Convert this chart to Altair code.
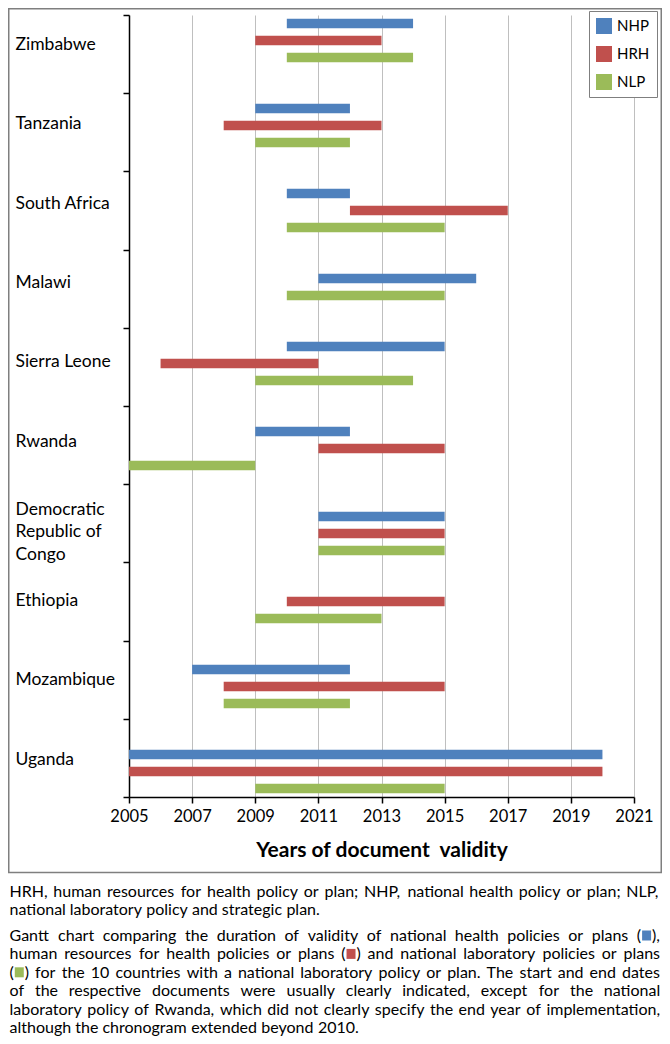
import glob
import os
import struct

import altair as alt
import pandas as pd

# ---------------- data ----------------
countries = [
    "Zimbabwe", "Tanzania", "South Africa", "Malawi", "Sierra Leone",
    "Rwanda", "Democratic Republic of Congo", "Ethiopia", "Mozambique", "Uganda",
]
series_names = ["NHP", "HRH", "NLP"]
series_colors = ["#4f81bd", "#c0504d", "#9bbb59"]

# start / end year of validity (None = no document)
nhp_start = [2010, 2009, 2010, 2011, 2010, 2009, 2011, None, 2007, 2005]
nhp_end   = [2014, 2012, 2012, 2016, 2015, 2012, 2015, None, 2012, 2020]
hrh_start = [2009, 2008, 2012, None, 2006, 2011, 2011, 2010, 2008, 2005]
hrh_end   = [2013, 2013, 2017, None, 2011, 2015, 2015, 2015, 2015, 2020]
nlp_start = [2010, 2009, 2010, 2010, 2009, 2005, 2011, 2009, 2008, 2009]
nlp_end   = [2014, 2012, 2015, 2015, 2014, 2009, 2015, 2013, 2012, 2015]

year_ticks = [2005, 2007, 2009, 2011, 2013, 2015, 2017, 2019, 2021]
x_title = "Years of document\u00a0 validity"

caption_p1 = [
    "HRH, human resources for health policy or plan; NHP, national health policy or plan; NLP,",
    "national laboratory policy and strategic plan.",
]
caption_p2 = [
    "Gantt chart comparing the duration of validity of national health policies or plans (\u25a0),",
    "human resources for health policies or plans (\u25a0) and national laboratory policies or plans",
    "(\u25a0) for the 10 countries with a national laboratory policy or plan. The start and end dates",
    "of the respective documents were usually clearly indicated, except for the national",
    "laboratory policy of Rwanda, which did not clearly specify the end year of implementation,",
    "although the chronogram extended beyond 2010.",
]
# series whose colour fills the square in each line of paragraph 2
caption_swatch = {0: "NHP", 1: "HRH", 2: "NLP"}

FONT = "Lato"

# ---------------- font metrics (for justified caption) ----------------
def _find_font():
    dirs = ["/usr/share/fonts", "/usr/local/share/fonts",
            os.path.expanduser("~/.fonts"), os.path.expanduser("~/.local/share/fonts")]
    for d in dirs:
        for name in ("Lato-Regular.ttf", "Lato-Regular.otf"):
            hits = glob.glob(os.path.join(d, "**", name), recursive=True)
            if hits:
                return hits[0]
    return None


def _load_metrics(path):
    data = open(path, "rb").read()
    base = struct.unpack(">I", data[12:16])[0] if data[:4] == b"ttcf" else 0
    ntab = struct.unpack(">H", data[base + 4:base + 6])[0]
    tabs = {}
    for i in range(ntab):
        tag, _, off, ln = struct.unpack(">4sIII", data[base + 12 + 16 * i: base + 28 + 16 * i])
        tabs[tag.decode("latin1")] = off
    upem = struct.unpack(">H", data[tabs["head"] + 18: tabs["head"] + 20])[0]
    nhm = struct.unpack(">H", data[tabs["hhea"] + 34: tabs["hhea"] + 36])[0]
    h = tabs["hmtx"]
    adv = [struct.unpack(">H", data[h + 4 * i: h + 4 * i + 2])[0] for i in range(nhm)]
    c = tabs["cmap"]
    n = struct.unpack(">H", data[c + 2:c + 4])[0]
    sub = None
    for i in range(n):
        pid, eid, so = struct.unpack(">HHI", data[c + 4 + 8 * i: c + 12 + 8 * i])
        if struct.unpack(">H", data[c + so: c + so + 2])[0] == 4:
            sub = c + so
            if (pid, eid) == (3, 1):
                break
    segx2 = struct.unpack(">H", data[sub + 6: sub + 8])[0]
    seg = segx2 // 2
    ends_ = struct.unpack(">%dH" % seg, data[sub + 14: sub + 14 + segx2])
    starts_ = struct.unpack(">%dH" % seg, data[sub + 16 + segx2: sub + 16 + 2 * segx2])
    deltas = struct.unpack(">%dh" % seg, data[sub + 16 + 2 * segx2: sub + 16 + 3 * segx2])
    rpos = sub + 16 + 3 * segx2
    roffs = struct.unpack(">%dH" % seg, data[rpos: rpos + segx2])

    def advance(ch):
        cp = ord(ch)
        for i in range(seg):
            if starts_[i] <= cp <= ends_[i]:
                if roffs[i] == 0:
                    g = (cp + deltas[i]) & 0xFFFF
                else:
                    a = rpos + 2 * i + roffs[i] + 2 * (cp - starts_[i])
                    g = struct.unpack(">H", data[a:a + 2])[0]
                    if g:
                        g = (g + deltas[i]) & 0xFFFF
                return adv[g] if g < nhm else adv[-1]
        return adv[0]

    return upem, advance


try:
    UPEM, ADV = _load_metrics(_find_font())
except Exception:
    UPEM, ADV = 1000, (lambda ch: 500)


def text_width(s, size):
    return sum(ADV(ch) for ch in s) * size / UPEM


# ---------------- tables ----------------
starts = dict(zip(series_names, [nhp_start, hrh_start, nlp_start]))
ends = dict(zip(series_names, [nhp_end, hrh_end, nlp_end]))
color_of = dict(zip(series_names, series_colors))

rows, row_domain = [], []
for i, c in enumerate(countries):
    for s in series_names:
        if starts[s][i] is None:
            continue
        key = f"{c} | {s}"
        rows.append({"country": c, "series": s, "start": starts[s][i],
                     "end": ends[s][i], "row": key})
        row_domain.append(key)
    if i < len(countries) - 1:
        row_domain += [f"{c} | gap 1", f"{c} | gap 2"]
bars_df = pd.DataFrame(rows)
country_df = pd.DataFrame({"country": countries})
one = pd.DataFrame({"k": [0]})

# caption layout (pixels relative to the plot's top-left corner)
SQ = "\u25a0"
CAP_X0, CAP_X1 = -119.5, 531.0
CAP_W = CAP_X1 - CAP_X0
LINE = 18.4
SQ_GAP = 11.0
justified = caption_p1[:-1] + caption_p2[:-1]


def split_tok(t):
    return t.split(SQ) if SQ in t else [t]


def tok_width(t, size):
    parts = split_tok(t)
    return sum(text_width(p, size) for p in parts) + SQ_GAP * (len(parts) - 1)


fits = []
for l in justified:
    toks = l.split(" ")
    a = sum(text_width(p, 1) for t in toks for p in split_tok(t)) + text_width(" ", 1) * (len(toks) - 1)
    g = SQ_GAP * l.count(SQ)
    if a > 0:
        fits.append((0.995 * CAP_W - g) / a)
CAP_SIZE = min([16.0] + fits)

words, swatches = [], []


def layout(lines, y0, swatch_map):
    for j, line in enumerate(lines):
        y = y0 + j * LINE
        toks = line.split(" ")
        tw = [tok_width(t, CAP_SIZE) for t in toks]
        if j == len(lines) - 1:
            gap = text_width(" ", CAP_SIZE)
        else:
            gap = (CAP_W - sum(tw)) / (len(toks) - 1)
        x = CAP_X0
        for t, w in zip(toks, tw):
            if SQ in t:
                pre, post = t.split(SQ)
                words.append({"text": pre, "px": x, "py": y})
                sx = x + text_width(pre, CAP_SIZE)
                swatches.append({"x": sx + 1, "x2": sx + SQ_GAP - 1, "y": y - 5.5, "y2": y + 4.5,
                                 "hex": color_of[swatch_map[j]]})
                words.append({"text": post, "px": sx + SQ_GAP, "py": y})
            else:
                words.append({"text": t, "px": x, "py": y})
            x += w + gap


layout(caption_p1, 877.0, {})
layout(caption_p2, 921.0, caption_swatch)
words_df = pd.DataFrame(words)
swatch_df = pd.DataFrame(swatches)

# ---------------- layers ----------------
frame = alt.Chart(one).mark_rect(fillOpacity=0, stroke="#7f7f7f", strokeWidth=1.5).encode(
    x=alt.value(-120.25), x2=alt.value(532.25), y=alt.value(-6.25), y2=alt.value(857.5)
)

bars = alt.Chart(bars_df).mark_bar().encode(
    x=alt.X(
        "start:Q",
        scale=alt.Scale(domain=[2005, 2021], nice=False, zero=False),
        axis=alt.Axis(
            values=year_ticks, format="d", title=x_title, grid=True,
            gridColor="#bfbfbf", gridWidth=1, domainColor="black", domainWidth=1.5,
            tickColor="black", tickWidth=1.5, tickSize=6,
            labelFont=FONT, labelFontSize=16.5, labelColor="black", labelPadding=5,
            labelFlush=False, titleFont=FONT, titleFontSize=21, titleFontWeight="bold",
            titleColor="black", titlePadding=15,
        ),
    ),
    x2="end:Q",
    y=alt.Y("row:N", scale=alt.Scale(domain=row_domain, paddingInner=0.43,
                                      paddingOuter=0.215), axis=None),
    color=alt.Color(
        "series:N",
        scale=alt.Scale(domain=series_names, range=series_colors),
        legend=alt.Legend(
            title=None, orient="none", legendX=460, legendY=-4,
            symbolType="square", symbolSize=256, symbolStrokeWidth=0, symbolOpacity=1,
            labelFont=FONT, labelFontSize=15, labelColor="black", labelOffset=5,
            rowPadding=12, padding=7, strokeColor="#7f7f7f", fillColor="white",
        ),
    ),
)

drc = "Democratic Republic of Congo"
label_conditions = []
for i, c in enumerate(countries):
    off = -14.0 if c == drc else round(-10.0 + 1.25 * i, 2)
    label_conditions.append({"test": f"datum.value == '{c}'", "value": off})

country_axis = alt.Chart(country_df).mark_point(opacity=0).encode(
    y=alt.Y(
        "country:N",
        scale=alt.Scale(type="band", domain=countries, paddingInner=0, paddingOuter=0),
        axis=alt.Axis(
            orient="left", title=None, tickBand="extent", grid=False,
            domainColor="black", domainWidth=1.5, tickColor="black", tickWidth=1.5,
            tickSize=6, labelAlign="left", labelBaseline="middle", labelPadding=108,
            labelFont=FONT, labelFontSize=17.5, labelColor="black", labelLimit=220,
            labelLineHeight=22.5,
            labelExpr=f"datum.value == '{drc}' ? ['Democratic', 'Republic of', 'Congo'] : datum.label",
            labelOffset={"condition": label_conditions, "value": 0},
        ),
    ),
    x=alt.value(0),
)

caption_words = alt.Chart(words_df).mark_text(
    align="left", baseline="middle", font=FONT, fontSize=CAP_SIZE, color="black"
).encode(
    x=alt.X("px:Q", scale=None, axis=None),
    y=alt.Y("py:Q", scale=None, axis=None),
    text="text:N",
)

caption_squares = alt.Chart(swatch_df).mark_rect().encode(
    x=alt.X("x:Q", scale=None, axis=None),
    x2="x2:Q",
    y=alt.Y("y:Q", scale=None, axis=None),
    y2="y2:Q",
    color=alt.Color("hex:N", scale=None),
)

chart = (
    alt.layer(frame, bars, country_axis, caption_words, caption_squares)
    .resolve_scale(x="independent", y="independent")
    .properties(
        width=505, height=782,
        autosize=alt.AutoSizeParams(type="none"),
        padding={"left": 121, "top": 7, "right": 28, "bottom": 239},
        background="white",
    )
    .configure_view(stroke=None)
)

chart.save("out.html", embed_options={"renderer": "svg", "actions": False})
